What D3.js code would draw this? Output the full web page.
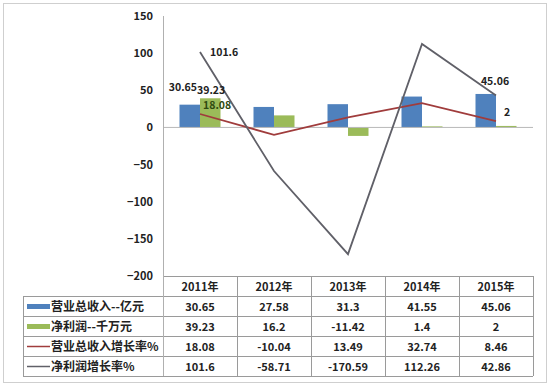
<!DOCTYPE html>
<html>
<head>
<meta charset="utf-8">
<script src="https://cdn.jsdelivr.net/npm/d3@7"></script>
<style>
  body { margin: 0; background: #fff; }
  text { font-family: "Noto Sans CJK SC", "Noto Sans", sans-serif; }
</style>
</head>
<body>
<div id="vis"></div>
<script>
const years = ['2011年', '2012年', '2013年', '2014年', '2015年']
const revenue = [30.65, 27.58, 31.3, 41.55, 45.06]
const profit = [39.23, 16.2, -11.42, 1.4, 2]
const revenueGrowth = [18.08, -10.04, 13.49, 32.74, 8.46]
const profitGrowth = [101.6, -58.71, -170.59, 112.26, 42.86]
const yTicks = [150, 100, 50, 0, -50, -100, -150, -200]

const seriesNames = ['营业总收入--亿元', '净利润--千万元', '营业总收入增长率%', '净利润增长率%']
const colors = ['#4f81bd', '#9bbb59', '#a03c3c', '#606068']

const width = 550, height = 386
const plot = {left: 163, right: 533, top: 16, bottom: 276}
const rowH = 20

let svg = d3.select('#vis').append('svg')
    .attr('width', width)
    .attr('height', height)

// outer frame
svg.append('rect')
    .attr('x', 3.5).attr('y', 3.5)
    .attr('width', 543).attr('height', 379)
    .attr('fill', '#fff')
    .attr('stroke', '#cfcfcf')

let x = d3.scaleBand(years, [plot.left, plot.right])
let y = d3.scaleLinear([-200, 150], [plot.bottom, plot.top])
let xSub = d3.scaleBand([0, 1], [0, 41])

// y axis
let yAxis = d3.axisLeft(y).tickValues(yTicks).tickSize(0).tickPadding(10)
svg.append('g')
    .attr('transform', `translate(${plot.left},0)`)
    .call(yAxis)
    .call(g => g.select('.domain').attr('stroke', '#b0b0b0'))
    .call(g => g.selectAll('text')
        .attr('font-size', 11).attr('font-weight', 'bold').attr('fill', '#222'))

// bars
let bars = [revenue, profit]
bars.forEach((vals, s) => {
    svg.selectAll('.bar' + s)
        .data(vals).enter()
        .append('rect')
        .attr('x', (d, i) => x(years[i]) + x.bandwidth() / 2 - 20.5 + xSub(s))
        .attr('width', xSub.bandwidth())
        .attr('y', d => y(Math.max(0, d)))
        .attr('height', d => Math.abs(y(d) - y(0)))
        .attr('fill', colors[s])
})

// zero line
svg.append('line')
    .attr('x1', plot.left).attr('x2', plot.right)
    .attr('y1', y(0)).attr('y2', y(0))
    .attr('stroke', '#b8b8b8')

// lines
let line = d3.line()
    .x((d, i) => x(years[i]) + x.bandwidth() / 2)
    .y(d => y(d))

;[revenueGrowth, profitGrowth].forEach((vals, s) => {
    svg.append('path')
        .datum(vals)
        .attr('d', line)
        .attr('fill', 'none')
        .attr('stroke', colors[s + 2])
        .attr('stroke-width', 1.8)
})

// data labels (only the ones shown in the original)
let cx = i => x(years[i]) + x.bandwidth() / 2
let labels = [
    {t: revenue[0], x: cx(0) - 3, y: y(revenue[0]) - 14, a: 'end', c: '#222'},
    {t: profit[0], x: cx(0) - 3, y: y(profit[0]) - 4, a: 'start', c: '#222'},
    {t: revenueGrowth[0], x: cx(0) + 3, y: y(revenueGrowth[0]) - 5, a: 'start', c: '#2f4a10'},
    {t: profitGrowth[0], x: cx(0) + 10, y: y(profitGrowth[0]) + 4, a: 'start', c: '#222'},
    {t: revenue[4], x: cx(4) - 1, y: y(revenue[4]) - 9, a: 'middle', c: '#222'},
    {t: profit[4], x: cx(4) + 8, y: y(profit[4]) - 10, a: 'start', c: '#222'}
]
svg.selectAll('.data-label')
    .data(labels).enter()
    .append('text')
    .attr('class', 'data-label')
    .text(d => d.t)
    .attr('x', d => d.x)
    .attr('y', d => d.y)
    .attr('text-anchor', d => d.a)
    .attr('fill', d => d.c)
    .attr('font-size', 10.5)
    .attr('font-weight', 'bold')

// data table
let tableLeft = 23
let table = svg.append('g').attr('class', 'data-table')
let gridColor = '#9a9a9a'

// header row
table.append('line')
    .attr('x1', plot.left).attr('x2', plot.right)
    .attr('y1', plot.bottom + 0.5).attr('y2', plot.bottom + 0.5)
    .attr('stroke', gridColor)
table.selectAll('.head')
    .data(years).enter()
    .append('text')
    .text(d => d)
    .attr('x', d => x(d) + x.bandwidth() / 2)
    .attr('y', plot.bottom + 14.5)
    .attr('text-anchor', 'middle')
    .attr('font-size', 11)
    .attr('font-weight', 'bold')
    .attr('fill', '#222')

let rows = [revenue, profit, revenueGrowth, profitGrowth]
let rowTop = i => plot.bottom + rowH * (i + 1)

// horizontal grid lines
d3.range(rows.length + 1).forEach(i => {
    table.append('line')
        .attr('x1', tableLeft).attr('x2', plot.right)
        .attr('y1', rowTop(i) + 0.5).attr('y2', rowTop(i) + 0.5)
        .attr('stroke', gridColor)
})
// vertical grid lines
table.append('line')
    .attr('x1', tableLeft + 0.5).attr('x2', tableLeft + 0.5)
    .attr('y1', rowTop(0)).attr('y2', rowTop(rows.length))
    .attr('stroke', gridColor)
years.concat(['end']).forEach((yr, i) => {
    let xx = i < years.length ? x(yr) : plot.right
    table.append('line')
        .attr('x1', xx + 0.5).attr('x2', xx + 0.5)
        .attr('y1', i === 0 ? plot.top : plot.bottom).attr('y2', rowTop(rows.length))
        .attr('stroke', i === 0 ? '#b0b0b0' : gridColor)
})

rows.forEach((vals, r) => {
    let top = rowTop(r)
    // legend key
    if (r < 2) {
        table.append('rect')
            .attr('x', tableLeft + 4).attr('y', top + 8)
            .attr('width', 23).attr('height', 5)
            .attr('fill', colors[r])
    } else {
        table.append('line')
            .attr('x1', tableLeft + 4).attr('x2', tableLeft + 27)
            .attr('y1', top + 10.5).attr('y2', top + 10.5)
            .attr('stroke', colors[r]).attr('stroke-width', 1.5)
    }
    table.append('text')
        .text(seriesNames[r])
        .attr('x', tableLeft + 28)
        .attr('y', top + 15)
        .attr('font-size', 12)
        .attr('font-weight', 'bold')
        .attr('fill', '#222')
    table.selectAll('.cell' + r)
        .data(vals).enter()
        .append('text')
        .text(d => d)
        .attr('x', (d, i) => x(years[i]) + x.bandwidth() / 2)
        .attr('y', top + 14.5)
        .attr('text-anchor', 'middle')
        .attr('font-size', 11)
        .attr('font-weight', 'bold')
        .attr('fill', '#222')
})
</script>
</body>
</html>
